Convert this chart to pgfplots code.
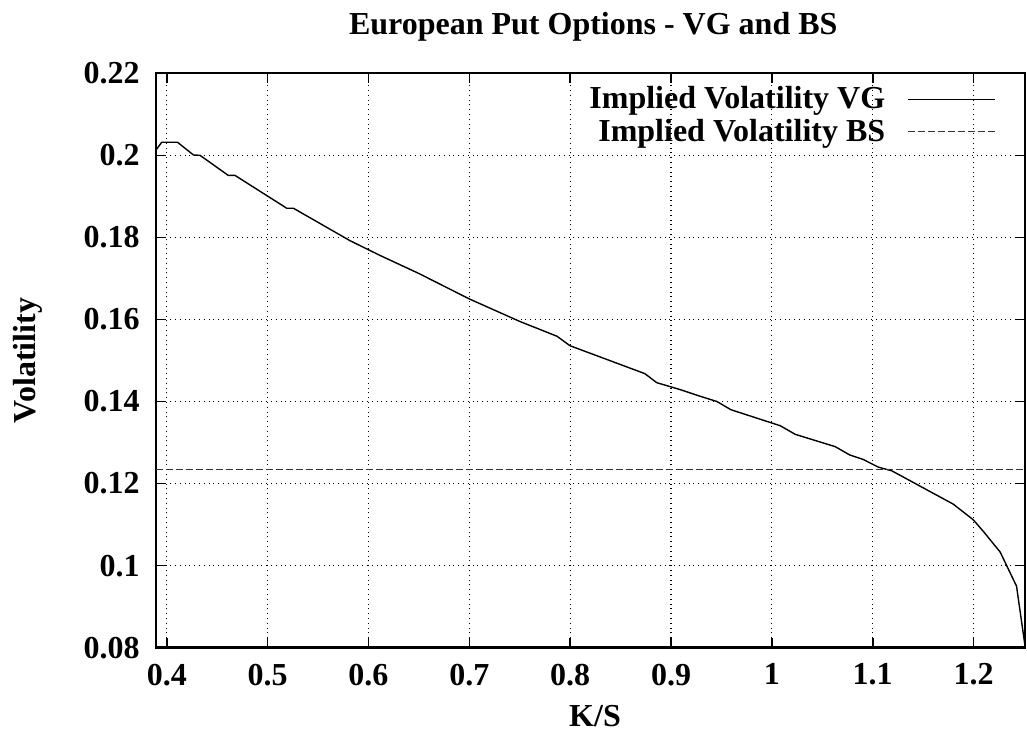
\documentclass[border=0pt]{standalone}
\usepackage{pgfplots}
\pgfplotsset{compat=1.18}
\usepackage{fontspec}
\setmainfont{Liberation Serif}
\begin{document}
\begin{tikzpicture}
\begin{axis}[
  scale only axis,
  width=434.65pt, height=287.2pt,
  at={(0,0)}, anchor=south west,
  xmin=0.389, xmax=1.251, ymin=0.08, ymax=0.22,
  xtick={0.4,0.5,0.6,0.7,0.8,0.9,1,1.1,1.2},
  ytick={0.08,0.1,0.12,0.14,0.16,0.18,0.2,0.22},
  xticklabels={0.4,0.5,0.6,0.7,0.8,0.9,1,1.1,1.2},
  yticklabels={0.08,0.1,0.12,0.14,0.16,0.18,0.2,0.22},
  tick align=inside, major tick length=5pt,
  tick style={black, line width=0.8pt},
  axis line style={line width=1.2pt},
  grid=major,
  major grid style={dotted, black, line width=0.6pt},
  ticklabel style={font=\fontsize{16}{19}\selectfont\bfseries},
  yticklabel style={xshift=-4.5pt},
  xticklabel style={yshift=-4.5pt},
  legend cell align=right,
  legend plot pos=right,
  legend style={draw=none, fill=none, at={(rel axis cs:1,1)}, anchor=north east,
    xshift=-14.5pt, yshift=-4.5pt,
    font=\fontsize{16}{19}\selectfont\bfseries,
    row sep=-0.5pt, column sep=9pt, inner sep=0pt},
  legend image code/.code={\draw[#1] (0pt,0pt) -- (43.5pt,0pt);},
]
\addplot[black, line width=0.7pt] coordinates {
(0.389,0.2012) (0.395,0.2032) (0.4106,0.2032) (0.4264,0.2001) (0.433,0.2000)
(0.461,0.1951) (0.4677,0.1951) (0.519,0.1871) (0.5256,0.1871) (0.5817,0.1792)
(0.6115,0.1756) (0.65,0.1712) (0.7,0.165) (0.7502,0.1595) (0.787,0.1559) (0.7998,0.1536)
(0.874,0.1468) (0.8858,0.1446) (0.9091,0.1429) (0.9287,0.1413) (0.9455,0.1400)
(0.9594,0.1380) (1.0083,0.1341) (1.0232,0.1320) (1.0628,0.1290) (1.077,0.1270)
(1.0903,0.1259) (1.1057,0.1240) (1.119,0.1231) (1.1798,0.1150) (1.1996,0.1112)
(1.2102,0.1082) (1.2264,0.1033) (1.2426,0.0950) (1.251,0.0805)
};
\addlegendentry{Implied Volatility VG}
\addplot[black!80, line width=0.7pt, dash pattern=on 3.5pt off 1.5pt] coordinates {
(0.389,0.1235) (1.251,0.1235)
};
\addlegendentry{Implied Volatility BS}
\end{axis}
\node[anchor=base, font=\fontsize{16}{19}\selectfont\bfseries] at (218.8pt,306.35pt) {European Put Options - VG and BS};
\node[rotate=90, font=\fontsize{16}{19}\selectfont\bfseries] at (-63.85pt,143.6pt) {Volatility};
\node[font=\fontsize{16}{19}\selectfont\bfseries] at (219.65pt,-34.15pt) {K/S};
\pgfresetboundingbox
\useasboundingbox (-77.85pt,-47.15pt) rectangle (435.65pt,323.85pt);
\end{tikzpicture}
\end{document}
